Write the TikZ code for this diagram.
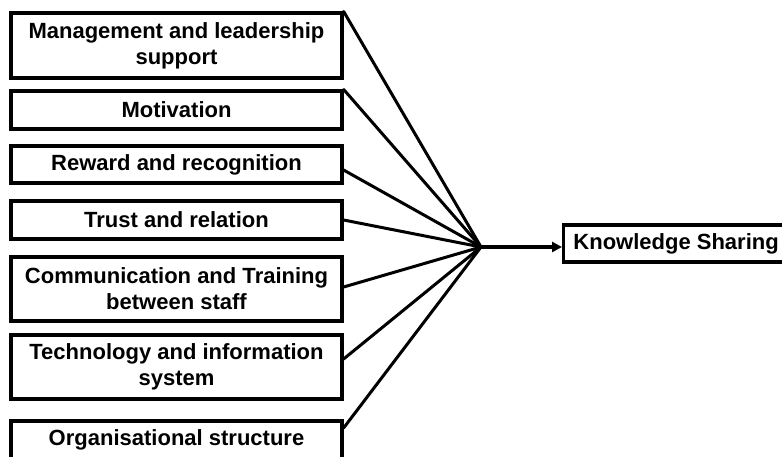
\documentclass[tikz,border=0pt]{standalone}
\usepackage{fontspec}
\setmainfont{Liberation Sans}
\usetikzlibrary{arrows.meta}
\begin{document}
\begin{tikzpicture}[x=1pt,y=-1pt,
  factor/.style={draw=black, line width=3.2pt, fill=white, minimum width=331pt, inner sep=0pt,
    align=center, font=\fontsize{22}{26}\selectfont\bfseries},
  conn/.style={line width=3pt, line cap=round},
  arr/.style={line width=3.2pt, -{Triangle[length=10pt,width=10pt]}}]
\clip (0,0) rectangle (782,456);
\fill[white] (0,0) rectangle (782,456);
\node[factor, minimum height=65pt] (b1) at (176.5,45.5) {Management and leadership\\support};
\node[factor, minimum height=38pt] (b2) at (176.5,110) {Motivation};
\node[factor, minimum height=37pt] (b3) at (176.5,164.5) {Reward and recognition};
\node[factor, minimum height=38pt] (b4) at (176.5,220) {Trust and relation};
\node[factor, minimum height=64pt] (b5) at (176.5,289) {Communication and Training\\between staff};
\node[factor, minimum height=64pt] (b6) at (176.5,367) {Technology and information\\system};
\node[factor, minimum height=38pt] (b7) at (176.5,440) {Organisational structure};
\node[factor, anchor=west, minimum width=225pt, minimum height=37pt] (ks) at (562,243.5) {Knowledge Sharing};
\coordinate (J) at (481,247);
\draw[conn] (b1.north east) -- (J);
\draw[conn] (b2.north east) -- (J);
\draw[conn] ([yshift=-5.5pt]b3.east) -- (J);
\draw[conn] (b4.east) -- (J);
\draw[conn] ([yshift=2pt]b5.east) -- (J);
\draw[conn] ([yshift=8pt]b6.east) -- (J);
\draw[conn] ([yshift=12pt]b7.east) -- (J);
\draw[arr] (J) -- (ks.west |- J);
\end{tikzpicture}
\end{document}
